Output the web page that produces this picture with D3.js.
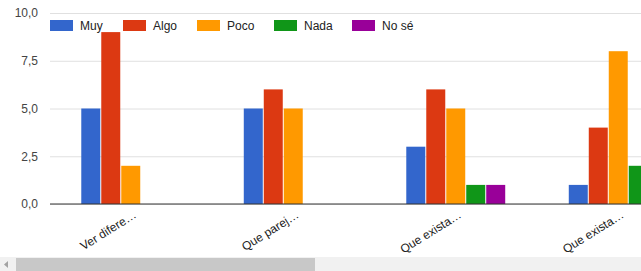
<!DOCTYPE html>
<html>
<head>
<meta charset="utf-8">
<script src="https://cdn.jsdelivr.net/npm/d3@7"></script>
<style>
  body { margin: 0; background: #fff; overflow: hidden; }
  svg { display: block; font-family: "Liberation Sans", Arial, sans-serif; }
</style>
</head>
<body>
<div id="chart"></div>
<script>
// data
const categories = ["Ver difere…", "Que parej…", "Que exista…", "Que exista…"];
const seriesNames = ["Muy", "Algo", "Poco", "Nada", "No sé"];
const muy  = [5, 5, 3, 1];
const algo = [9, 6, 6, 4];
const poco = [2, 5, 5, 8];
const nada = [0, 0, 1, 2];
const nose = [0, 0, 1, 0];
const yTicks = [0, 2.5, 5, 7.5, 10];

const colors = ["#3366cc", "#dc3912", "#ff9900", "#109618", "#990099"];
const series = [muy, algo, poco, nada, nose];

const w = 641, h = 271;
const plotLeft = 50, plotRight = 700, plotTop = 13, plotBottom = 204;

const svg = d3.select("#chart").append("svg")
  .attr("width", w)
  .attr("height", h);

const x0 = d3.scaleBand()
  .domain(d3.range(categories.length))
  .range([plotLeft, plotRight])
  .paddingInner(0.385)
  .paddingOuter(0.1925);

const x1 = d3.scaleBand()
  .domain(d3.range(seriesNames.length))
  .range([0, x0.bandwidth()]);

const y = d3.scaleLinear().domain([0, 10]).range([plotBottom, plotTop]);

// gridlines + y labels
const yAxis = d3.axisLeft(y)
  .tickValues(yTicks)
  .tickSize(-(w - plotLeft))
  .tickPadding(12)
  .tickFormat(d => d3.format(".1f")(d).replace(".", ","));

const gy = svg.append("g")
  .attr("transform", "translate(" + plotLeft + ",0)")
  .call(yAxis);
gy.select(".domain").remove();
gy.selectAll("line").attr("stroke", "#e0e0e0");
gy.selectAll("text").attr("fill", "#444").style("font-size", "12px");

// bars
const groups = svg.append("g").selectAll("g")
  .data(categories)
  .join("g")
  .attr("transform", (d, i) => "translate(" + x0(i) + ",0)");

groups.selectAll("rect")
  .data((d, i) => series.map((s, k) => ({ k: k, v: s[i] })))
  .join("rect")
  .attr("x", d => x1(d.k))
  .attr("y", d => y(d.v))
  .attr("width", x1.bandwidth() - 1)
  .attr("height", d => y(0) - y(d.v))
  .attr("fill", d => colors[d.k]);

// baseline
svg.append("line")
  .attr("x1", plotLeft).attr("x2", w)
  .attr("y1", y(0)).attr("y2", y(0))
  .attr("stroke", "#333");

// x labels
svg.append("g").selectAll("text")
  .data(categories)
  .join("text")
  .attr("transform", (d, i) => "translate(" + (x0(i) + x0.bandwidth() / 2 + 6) + "," + (y(0) + 13) + ") rotate(-32)")
  .attr("text-anchor", "end")
  .attr("fill", "#222")
  .style("font-size", "12px")
  .text(d => d);

// legend
const legendX = [50, 123, 197, 274, 352];
const legend = svg.append("g").selectAll("g")
  .data(seriesNames)
  .join("g")
  .attr("transform", (d, i) => "translate(" + legendX[i] + ",20)");

legend.append("rect")
  .attr("width", 23)
  .attr("height", 11)
  .attr("fill", (d, i) => colors[i]);

legend.append("text")
  .attr("x", 30)
  .attr("y", 10)
  .attr("fill", "#222")
  .style("font-size", "12px")
  .text(d => d);

// scrollbar
svg.append("rect").attr("x", 0).attr("y", 257).attr("width", w).attr("height", 14).attr("fill", "#f1f1f1");
svg.append("rect").attr("x", 16).attr("y", 258).attr("width", 299).attr("height", 13).attr("fill", "#c8c8c8");
svg.append("path").attr("d", "M8,261 L4,264.5 L8,268 Z").attr("fill", "#a3a3a3");
</script>
</body>
</html>
